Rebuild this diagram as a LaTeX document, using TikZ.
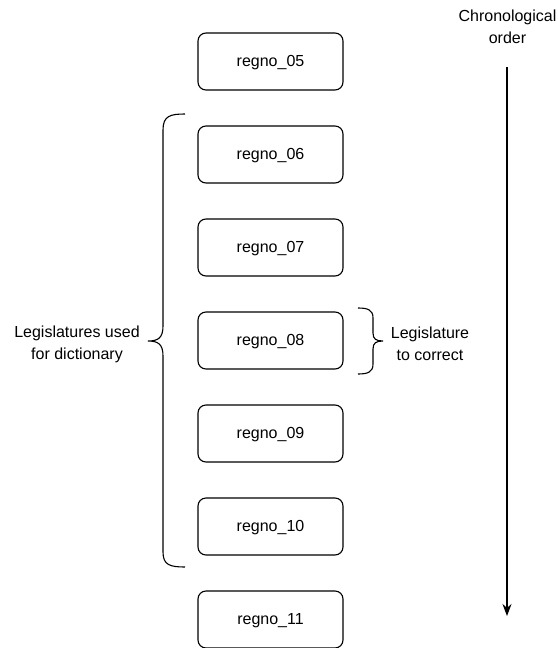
\documentclass[tikz,border=0pt]{standalone}
\usepackage{fontspec}
\setmainfont{Liberation Sans}
\usepackage{tikz}
\usetikzlibrary{arrows.meta}

\begin{document}
\begin{tikzpicture}[x=1pt,y=-1pt,
    regno/.style={draw, line width=1.1pt, rounded corners=8pt, minimum width=145pt, minimum height=57pt, text depth=1pt, font=\fontsize{16}{22}\selectfont},
    label/.style={align=center, font=\fontsize{16}{22}\selectfont},
    brace/.style={line width=1.1pt}]
      % Fix the size of the page
      \useasboundingbox (0,0) rectangle (557,648);

      % The legislatures, in chronological order
      \foreach \n [count=\i from 0] in {05,06,07,08,09,10,11}
        \node[regno] (regno\n) at (270.5, 61.5+93*\i) {regno\_\n};

      % Brace round the legislatures used for the dictionary
      \draw[brace] (185,114) .. controls (170,114) and (163,116) .. (163,130)
        -- (163,326) .. controls (163,338) and (158,341) .. (148,341)
        .. controls (158,341) and (163,344) .. (163,356)
        -- (163,552) .. controls (163,565) and (170,567) .. (185,567);
      \node[label] (dict) at (77,344) {Legislatures used\\for dictionary};

      % Brace round the legislature to correct
      \draw[brace] (358,308) .. controls (368,308) and (373,310) .. (373,318)
        -- (373,333) .. controls (373,339) and (376,341) .. (383,341)
        .. controls (376,341) and (373,343) .. (373,349)
        -- (373,364) .. controls (373,372) and (368,374) .. (358,374);
      \node[label] (fix) at (430,344) {Legislature\\to correct};

      % Arrow of time
      \node[label] (chrono) at (507.5,27) {Chronological\\order};
      \coordinate (top) at (507,67);
      \coordinate (bottom) at (507,616);
      \draw[line width=1.1pt, -{Stealth[length=12pt,width=9pt]}] (top) -- (bottom);
    \end{tikzpicture}
\end{document}
